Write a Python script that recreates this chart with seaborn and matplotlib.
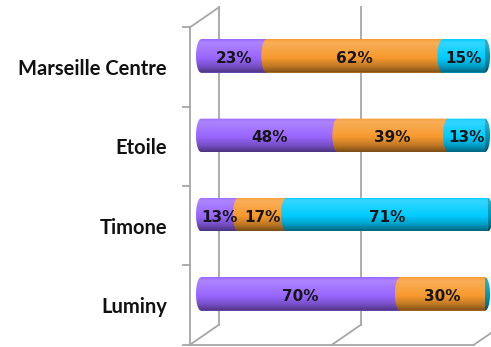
import numpy as np
import pandas as pd
import matplotlib
matplotlib.use("Agg")
import matplotlib.pyplot as plt
import seaborn as sns
import matplotlib.colors as mcolors
from matplotlib.path import Path
from matplotlib.patches import PathPatch
from matplotlib.lines import Line2D
from matplotlib.transforms import ScaledTranslation, IdentityTransform

# ---------------- data ----------------
campuses = ["Marseille Centre", "Etoile", "Timone", "Luminy"]
series_a = [23, 48, 13, 70]   # purple
series_b = [62, 39, 17, 30]   # orange
series_c = [15, 13, 71, 0]    # cyan
series_colors = ["#9966FF", "#F79A2E", "#00CCFF"]
cap_color = "#0096B4"
frame_color = "#A6A6A6"

df = pd.DataFrame({"campus": campuses, "a": series_a, "b": series_b, "c": series_c})
df["cum_a"] = df["a"]
df["cum_b"] = df["a"] + df["b"]
df["cum_c"] = df["a"] + df["b"] + df["c"]

W, H = 491, 347
fig = plt.figure(figsize=(W / 100, H / 100), dpi=100)
px = 2.84  # pixels per percent
x_lo, x_hi = -2.0, 102.1
left_px = 201 - 2.0 * px
top_px, bot_px = 16.3, 333.7
ax = fig.add_axes([left_px / W, (H - bot_px) / H, (W - left_px) / W, (bot_px - top_px) / H])

bar_w = 0.42
for col, color in [("cum_c", series_colors[2]), ("cum_b", series_colors[1]), ("cum_a", series_colors[0])]:
    sns.barplot(data=df, x=col, y="campus", color=color, orient="h", width=bar_w,
                saturation=1, ax=ax, zorder=1)

ax.set_xlim(x_lo, x_hi)
ax.set_ylim(3.5, -0.5)
for s in ax.spines.values():
    s.set_visible(False)
ax.set_xticks([])
ax.set_xlabel("")
ax.set_ylabel("")
ax.set_yticks(range(len(campuses)), campuses)
ax.tick_params(axis="y", length=0, pad=20.4)
for lbl in ax.get_yticklabels():
    lbl.set_fontfamily(["Lato", "DejaVu Sans"])
    lbl.set_fontweight("bold")
    lbl.set_fontsize(14.5)
    lbl.set_color("#111111")
    lbl.set_transform(lbl.get_transform() + ScaledTranslation(0, -0.11, fig.dpi_scale_trans))
ax.patch.set_alpha(0)


def profile(base, n=80, dark=False):
    rgb = np.array(mcolors.to_rgb(base))
    t = np.linspace(0, 1, n)
    k = np.interp(t, [0, 0.1, 0.28, 0.55, 0.8, 1.0], [0.02, 0.2, 0.12, 0.0, -0.22, -0.5])
    if dark:
        k = k - 0.1
    out = np.where(k[:, None] >= 0, rgb + (1 - rgb) * k[:, None], rgb * (1 + k[:, None]))
    return np.clip(out, 0, 1)[:, None, :]


a = 5.0 / px  # half-width of the elliptical cap (data units)


def shaded(verts, ext, color, z, dark=False):
    path = Path(verts, closed=True)
    patch = PathPatch(path, transform=ax.transData, fill=False, lw=0)
    ax.add_patch(patch)
    im = ax.imshow(profile(color, dark=dark), extent=ext, origin="upper", aspect="auto",
                   interpolation="bilinear", zorder=z)
    im.set_clip_path(patch)


values = [series_a, series_b, series_c]
for i in range(len(campuses)):
    yc = i
    yt, yb = yc - bar_w / 2, yc + bar_w / 2
    x0 = 0.0
    for j in range(3):
        v = values[j][i]
        if v > 0:
            x1 = x0 + v
            th = np.linspace(np.pi / 2, 3 * np.pi / 2, 40)
            arc = list(zip(x0 + a * np.cos(th), yc - (bar_w / 2) * np.sin(th)))
            verts = [(x1, yt)] + arc + [(x1, yb), (x1, yt)]
            shaded(verts, (x0 - a, x1, yb, yt), series_colors[j], 2 + j)
            ax.text(x0 + v / 2, yc + 0.03, f"{v}%", ha="center", va="center",
                    fontsize=11, fontweight="bold", color="#161616", zorder=10,
                    family="DejaVu Sans")
            x0 = x1
    # right end cap
    th = np.linspace(-np.pi / 2, np.pi / 2, 40)
    arc = list(zip(x0 + a * np.cos(th), yc + (bar_w / 2) * np.sin(th)))
    verts = [(x0, yt)] + arc + [(x0, yt)]
    shaded(verts, (x0, x0 + a, yb, yt), cap_color, 6)

ax.set_xlim(x_lo, x_hi)
ax.set_ylim(3.5, -0.5)


# ---------------- 3D frame ----------------
def P(x, y, dx, dy):
    d = ax.transData.transform((x, y))
    return d[0] + dx, d[1] - dy


FRONT = (-11, 11)
BACK = (18, -9)


def seg(p, q):
    fig.add_artist(Line2D([p[0], q[0]], [p[1], q[1]], transform=IdentityTransform(),
                          color=frame_color, lw=1.3, zorder=0))


for xv in [0, 50, 100]:
    seg(P(xv, -0.5, *BACK), P(xv, 3.5, *BACK))
    seg(P(xv, 3.5, *FRONT), P(xv, 3.5, *BACK))
seg(P(0, -0.5, *FRONT), P(0, -0.5, *BACK))
seg(P(0, -0.5, *FRONT), P(0, 3.5, *FRONT))
seg(P(0, 3.5, *FRONT), P(100, 3.5, *FRONT))
for yv in [-0.5, 0.5, 1.5, 2.5, 3.5]:
    seg(P(0, yv, FRONT[0] - 7, FRONT[1]), P(0, yv, *FRONT))

fig.savefig("out.png", dpi=100)
